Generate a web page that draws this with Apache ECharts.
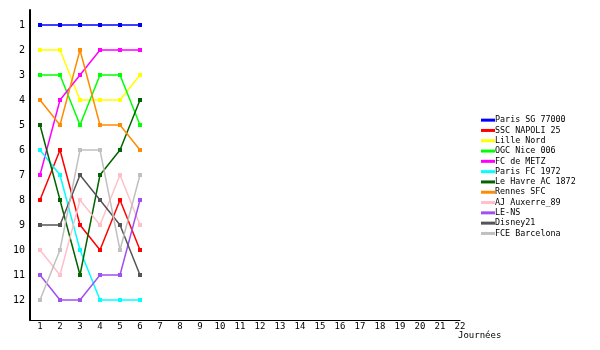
<!DOCTYPE html>
<html><head><meta charset="utf-8">
<script src="https://cdn.jsdelivr.net/npm/echarts@6/dist/echarts.min.js"></script>
<style>html,body{margin:0;padding:0;background:#fff}#c{width:600px;height:350px}</style>
</head><body><div id="c"></div>
<script>
const journees = [1,2,3,4,5,6];
const xTicks = [1,2,3,4,5,6,7,8,9,10,11,12,13,14,15,16,17,18,19,20,21,22];
const yTicks = [1,2,3,4,5,6,7,8,9,10,11,12];
const teams = ["Paris SG 77000","SSC NAPOLI 25","Lille Nord","OGC Nice 006","FC de METZ","Paris FC 1972","Le Havre AC 1872","Rennes SFC","AJ Auxerre_89","LE-NS","Disney21","FCE Barcelona"];
const colors = ["#0000ff","#ff0000","#ffff00","#00ff00","#ff00ff","#00ffff","#006400","#ff8c00","#ffc0cb","#a050f0","#555555","#c0c0c0"];
const psg = [1,1,1,1,1,1];
const napoli = [8,6,9,10,8,10];
const lille = [2,2,4,4,4,3];
const nice = [3,3,5,3,3,5];
const metz = [7,4,3,2,2,2];
const parisfc = [6,7,10,12,12,12];
const havre = [5,8,11,7,6,4];
const rennes = [4,5,2,5,5,6];
const auxerre = [10,11,8,9,7,9];
const lens = [11,12,12,11,11,8];
const disney = [9,9,7,8,9,11];
const barca = [12,10,6,6,10,7];
const ranks = [psg,napoli,lille,nice,metz,parisfc,havre,rennes,auxerre,lens,disney,barca];

const font = "DejaVu Sans Mono";
const chart = echarts.init(document.getElementById('c'));
chart.setOption({
  animation:false,
  backgroundColor:'#fff',
  grid:{left:30,right:140,top:10,bottom:30},
  legend:{
    orient:'vertical', left:476, top:110,
    icon:'rect', itemWidth:14, itemHeight:3, itemGap:0,
    textStyle:{fontFamily:font,fontSize:8.4,color:'#000',lineHeight:10.3,padding:[0,0,0,-5]},
    data:teams
  },
  xAxis:{
    type:'value', min:0.5, max:22,
    axisLine:{lineStyle:{color:'#000',width:1}},
    axisTick:{show:false},
    splitLine:{show:false},
    axisLabel:{customValues:xTicks,fontFamily:font,fontSize:9,color:'#000',margin:2},
    name:'Journées', nameLocation:'end', nameGap:0,
    nameTextStyle:{fontFamily:font,fontSize:9,color:'#000',align:'left',verticalAlign:'top',padding:[11,0,0,-2]}
  },
  yAxis:{
    type:'value', inverse:true, min:0.4, max:12.8,
    axisLine:{show:true,lineStyle:{color:'#000',width:2}},
    axisTick:{show:false},
    splitLine:{show:false},
    axisLabel:{customValues:yTicks,fontFamily:font,fontSize:10,color:'#000',margin:5}
  },
  series: teams.map((t,i)=>({
    name:t, type:'line',
    data: journees.map((j,k)=>[j, ranks[i][k]]),
    symbol:'rect', symbolSize:4, showSymbol:true,
    lineStyle:{color:colors[i],width:1.5},
    itemStyle:{color:colors[i]},
    emphasis:{disabled:true}
  }))
});
</script></body></html>
